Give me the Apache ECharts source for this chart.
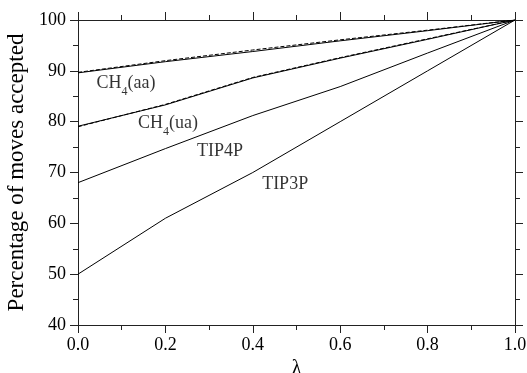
<!DOCTYPE html>
<html><head><meta charset="utf-8">
<script src="https://cdn.jsdelivr.net/npm/echarts@6/dist/echarts.min.js"></script>
<style>html,body{margin:0;padding:0;background:#fff}#c{width:527px;height:373px}</style>
</head><body><div id="c"></div>
<script>
var lambdas = [0, 0.2, 0.4, 0.6, 0.8, 1.0];
var tip3p = [50, 61, 70, 80, 90, 100];
var tip4p = [68, 74.7, 81.2, 86.9, 93.5, 100];
var ch4ua = [79.1, 83.3, 88.6, 92.5, 96.2, 100];
var ch4uaDashed = [79.0, 83.4, 88.7, 92.6, 96.3, 100];
var ch4aa = [89.6, 91.8, 93.8, 95.9, 97.9, 100];
var ch4aaDashed = [89.7, 92.0, 94.1, 96.1, 98.0, 100];
var labels = [
  {text: '{a|CH}{s|4}{a|(aa)}', at: [0.11, 87.7]},
  {text: '{a|CH}{s|4}{a|(ua)}', at: [0.206, 79.8]},
  {text: '{a|TIP4P}', at: [0.325, 74.3]},
  {text: '{a|TIP3P}', at: [0.474, 67.8]}
];
var FONT = 'Liberation Serif';
function pairs(ys){ return lambdas.map(function(x,i){return [x, ys[i]];}); }
function line(name, ys, dashed){
  return {type:'line', name:name, data:pairs(ys), showSymbol:false, symbol:'none',
    lineStyle:{color:'#000', width:1, type: dashed ? [4,2] : 'solid'}, z: dashed?3:2, animation:false};
}
var rich = {
  a:{fontFamily:FONT, fontSize:18, color:'#000', lineHeight:20, verticalAlign:'bottom'},
  s:{fontFamily:FONT, fontSize:12, color:'#000', lineHeight:14, verticalAlign:'bottom', padding:[0,0,-5,0]}
};
var labelSeries = {type:'scatter', data: labels.map(function(l){return {value:l.at, label:{formatter:l.text}};}),
  symbolSize:1, itemStyle:{color:'rgba(0,0,0,0)'}, silent:true, animation:false, z:5,
  label:{show:true, position:'inside', rich:rich}};
function axisCommon(){ return {
  axisLine:{show:true, onZero:false, lineStyle:{color:'#222', width:1}},
  axisTick:{show:true, length:8, inside:false, lineStyle:{color:'#222'}},
  minorTick:{show:true, splitNumber:2, length:5, lineStyle:{color:'#222'}},
  splitLine:{show:false}
};}
var option = {
  backgroundColor:'#fff',
  animation:false,
  textStyle:{fontFamily:FONT},
  grid:{left:78, right:12, top:20, bottom:48, containLabel:false, outerBoundsMode:'none'},
  xAxis:[
    Object.assign({type:'value', min:0, max:1, interval:0.2, position:'bottom',
      name:'λ', nameLocation:'middle', nameGap:21,
      nameTextStyle:{fontFamily:FONT, fontSize:20, color:'#000'},
      axisLabel:{fontFamily:FONT, fontSize:18, color:'#000', margin:11, formatter:function(v){return v.toFixed(1);}}}, axisCommon()),
    Object.assign({type:'value', min:0, max:1, interval:0.2, position:'top', axisLabel:{show:false}}, axisCommon())
  ],
  yAxis:[
    Object.assign({type:'value', min:40, max:100, interval:10, position:'left',
      name:'Percentage of moves accepted', nameLocation:'middle', nameGap:50,
      nameTextStyle:{fontFamily:FONT, fontSize:23, color:'#000'},
      axisLabel:{fontFamily:FONT, fontSize:18, color:'#000', margin:12}}, axisCommon()),
    Object.assign({type:'value', min:40, max:100, interval:10, position:'right', axisLabel:{show:false}}, axisCommon())
  ],
  series:[
    line('TIP3P', tip3p), line('TIP4P', tip4p),
    line('CH4(ua)', ch4ua), line('CH4(ua) dashed', ch4uaDashed, true),
    line('CH4(aa)', ch4aa), line('CH4(aa) dashed', ch4aaDashed, true),
    labelSeries
  ]
};
var chart = echarts.init(document.getElementById('c'), null, {renderer:'canvas'});
chart.setOption(option);
</script></body></html>
